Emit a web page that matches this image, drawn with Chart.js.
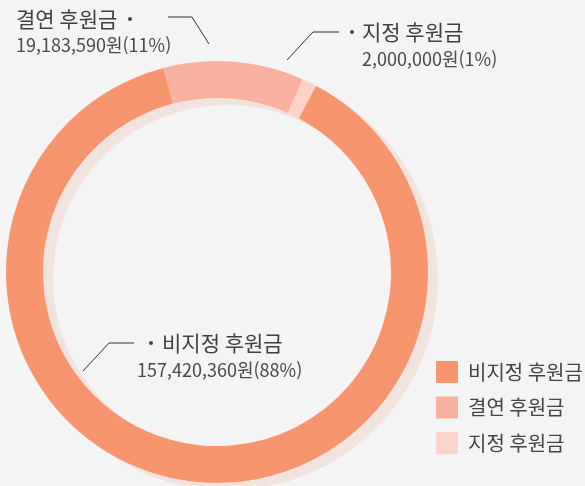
<!DOCTYPE html>
<html lang="ko">
<head>
<meta charset="utf-8">
<script src="https://cdn.jsdelivr.net/npm/chart.js@4.4.1/dist/chart.umd.min.js"></script>
<style>
  html, body { margin: 0; padding: 0; background: #f3f4f3; }
  #wrap { width: 585px; height: 486px; }
</style>
</head>
<body>
<div id="wrap"><canvas id="chart_donation" width="585" height="486"></canvas></div>
<script>
// 후원금 구성
const categories = ["비지정 후원금", "결연 후원금", "지정 후원금"];
const amounts = [157420360, 19183590, 2000000];

const sliceColors = ["#f7956f", "#f9b19f", "#fcd3c8"];
const FONT = '"Noto Sans CJK KR", "Noto Sans", sans-serif';

let total = 0;
amounts.forEach((v) => {
  total = total + v;
});

// label layout, offsets from the doughnut centre
const labelSpots = [
  { title: [-55, 71], dot: [-66, 71], num: [-80, 98], line: [[-83, 71], [-108, 71], [-134, 99]] },
  { title: [-201, -253], dot: [-87, -253], num: [-201, -227], line: [[-49, -255], [-25, -255], [-8, -228]] },
  { title: [145, -240], dot: [135, -240], num: [145, -213], line: [[122, -240], [96, -240], [70, -212]] },
];

// flat offset ring behind the doughnut
const ringShadow = {
  id: "ringShadow",
  beforeDatasetsDraw(chart) {
    const arc = chart.getDatasetMeta(0).data[0];
    if (!arc) return;
    const ctx = chart.ctx;
    const cx = arc.x + 10;
    const cy = arc.y + 7;
    ctx.save();
    ctx.fillStyle = "#f3e3de";
    ctx.beginPath();
    ctx.arc(cx, cy, arc.outerRadius, 0, Math.PI * 2);
    ctx.arc(cx, cy, arc.innerRadius, Math.PI * 2, 0, true);
    ctx.fill();
    ctx.restore();
  },
};

const sliceLabels = {
  id: "sliceLabels",
  afterDatasetsDraw(chart) {
    const arc = chart.getDatasetMeta(0).data[0];
    if (!arc) return;
    const ctx = chart.ctx;
    const cx = arc.x;
    const cy = arc.y;
    ctx.save();
    labelSpots.forEach((s, i) => {
      // leader line
      ctx.strokeStyle = "#333333";
      ctx.lineWidth = 1;
      ctx.beginPath();
      ctx.moveTo(cx + s.line[0][0], cy + s.line[0][1]);
      ctx.lineTo(cx + s.line[1][0], cy + s.line[1][1]);
      ctx.lineTo(cx + s.line[2][0], cy + s.line[2][1]);
      ctx.stroke();

      ctx.fillStyle = "#444444";
      ctx.beginPath();
      ctx.arc(cx + s.dot[0], cy + s.dot[1], 2, 0, Math.PI * 2);
      ctx.fill();

      ctx.textAlign = "left";
      ctx.textBaseline = "middle";
      ctx.fillStyle = "#3f3f3f";
      ctx.font = "21px " + FONT;
      ctx.fillText(categories[i], cx + s.title[0], cy + s.title[1]);

      const pct = Math.round((amounts[i] / total) * 100);
      ctx.fillStyle = "#4a4a4a";
      ctx.font = "18px " + FONT;
      ctx.fillText(
        amounts[i].toLocaleString("en-US") + "원(" + pct + "%)",
        cx + s.num[0],
        cy + s.num[1]
      );
    });
    ctx.restore();
  },
};

const ctxD = document.getElementById("chart_donation").getContext("2d");

const donationChart = new Chart(ctxD, {
  type: "doughnut",
  data: {
    labels: categories,
    datasets: [
      {
        data: amounts,
        backgroundColor: sliceColors,
        borderWidth: 0,
        hoverOffset: 0,
        clip: false,
      },
    ],
  },
  options: {
    responsive: false,
    animation: false,
    rotation: 28,
    radius: 211,
    cutout: "82.5%",
    layout: {
      padding: { left: 11.5, right: 3, top: 76.5, bottom: 18.5 },
    },
    plugins: {
      tooltip: { enabled: false },
      legend: {
        display: true,
        position: "right",
        align: "end",
        maxWidth: 159.5,
        labels: {
          boxWidth: 22,
          boxHeight: 22,
          padding: 13.5,
          color: "#444444",
          font: { family: FONT, size: 20 },
        },
      },
    },
  },
  plugins: [ringShadow, sliceLabels],
});
</script>
</body>
</html>
